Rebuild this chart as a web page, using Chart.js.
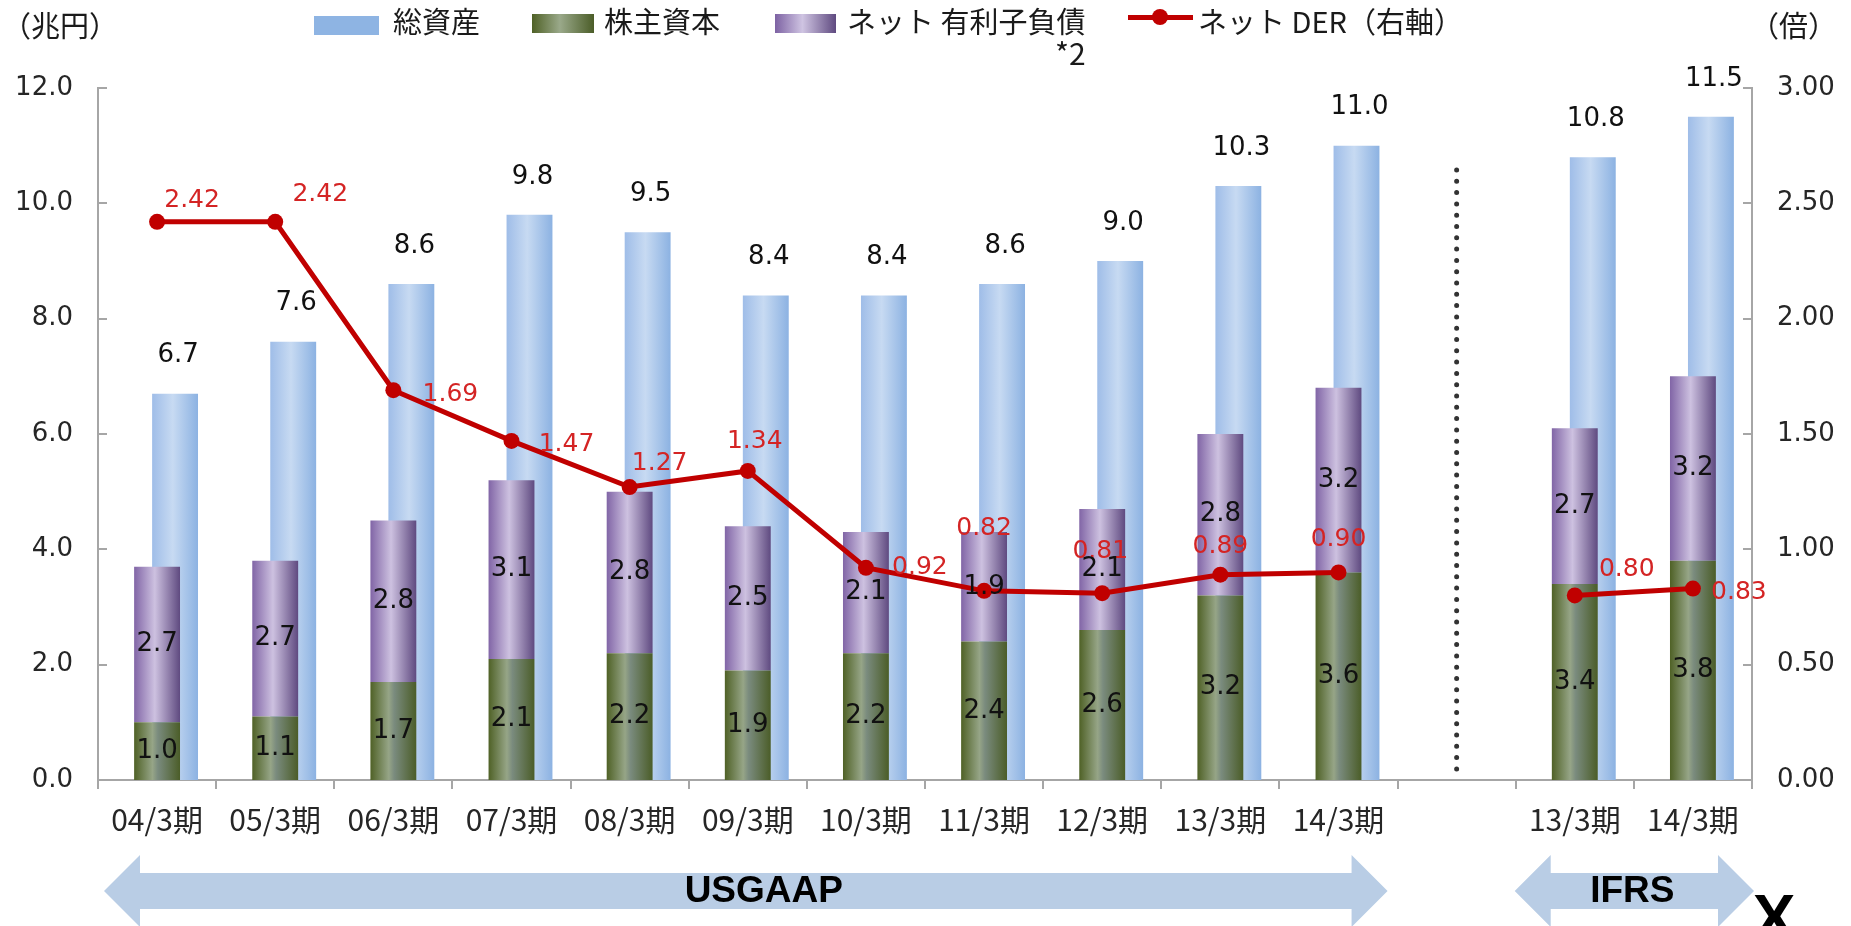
<!DOCTYPE html>
<html lang="ja">
<head>
<meta charset="utf-8">
<script src="https://cdn.jsdelivr.net/npm/chart.js@4.4.0/dist/chart.umd.min.js"></script>
<style>
  html, body { margin: 0; padding: 0; background: #fff; }
  #wrap { position: relative; width: 1851px; height: 926px; overflow: hidden; }
  #chart { position: absolute; left: 0; top: 0; }
  .lbl { position: absolute; font-family: "Noto Sans CJK JP", sans-serif; font-size: 29px; line-height: 1; color: #1a1a1a; white-space: nowrap; }
  .sw { position: absolute; }
</style>
</head>
<body>
<div id="wrap">
  <canvas id="chart" width="1851" height="926"></canvas>

  <span class="lbl" style="left:2px;top:10px">（兆円）</span>
  <span class="lbl" style="left:1750px;top:10px">（倍）</span>

  <div class="sw" style="left:314px;top:16px;width:65px;height:19px;background:#8eb4e3"></div>
  <span class="lbl" style="left:393px;top:6px">総資産</span>
  <div class="sw" style="left:532px;top:14px;width:62px;height:19px;background:linear-gradient(to right,#4f6126,#9aa98a 45%,#4b5d28)"></div>
  <span class="lbl" style="left:604px;top:6px">株主資本</span>
  <div class="sw" style="left:775px;top:14px;width:61px;height:19px;background:linear-gradient(to right,#7d62a3,#cfc4e2 45%,#5f4a80)"></div>
  <span class="lbl" style="left:847px;top:6px">ネット 有利子負債</span>
  <span class="lbl" style="left:1055px;top:37px;font-size:30px">*2</span>
  <div class="sw" style="left:1128px;top:15px;width:65px;height:5px;background:#c00000"></div>
  <div class="sw" style="left:1152px;top:9px;width:16px;height:16px;border-radius:50%;background:#c00000"></div>
  <span class="lbl" style="left:1198px;top:6px">ネット DER（右軸）</span>
</div>

<script>
// 区分
const categories = ['04/3期', '05/3期', '06/3期', '07/3期', '08/3期', '09/3期', '10/3期',
                    '11/3期', '12/3期', '13/3期', '14/3期', '', '13/3期', '14/3期'];

// 兆円
const totalAssets = [6.7, 7.6, 8.6, 9.8, 9.5, 8.4, 8.4, 8.6, 9.0, 10.3, 11.0, null, 10.8, 11.5];
const equity      = [1.0, 1.1, 1.7, 2.1, 2.2, 1.9, 2.2, 2.4, 2.6, 3.2, 3.6, null, 3.4, 3.8];
const netDebt     = [2.7, 2.7, 2.8, 3.1, 2.8, 2.5, 2.1, 1.9, 2.1, 2.8, 3.2, null, 2.7, 3.2];

// 倍
const netDer = [2.42, 2.42, 1.69, 1.47, 1.27, 1.34, 0.92, 0.82, 0.81, 0.89, 0.90, null, 0.80, 0.83];

// 軸
const leftMax = 12, leftStep = 2;
const rightMax = 3, rightStep = 0.5;

// DERラベルの置き場所 (点からのずれ, px)
const derLabelShift = [[35, -21], [45, -27], [57, 4], [55, 4], [30, -24], [7, -29], [54, 0],
                       [0, -62], [-2, -42], [0, -28], [0, -33], null, [52, -26], [46, 4]];

const gray = '#a6a6a6';
const textColor = '#262626';
const derRed = '#c00000';
const arrowBlue = '#b9cde5';

// 棒の立体感
const barShading = {
  id: 'barShading',
  beforeDatasetsDraw(chart) {
    const ctx = chart.ctx;
    chart.data.datasets.forEach((ds, i) => {
      if (!ds.shade) return;
      chart.getDatasetMeta(i).data.forEach(el => {
        if (!el.width || isNaN(el.y)) return;
        const g = ctx.createLinearGradient(el.x - el.width / 2, 0, el.x + el.width / 2, 0);
        ds.shade.forEach(s => g.addColorStop(s[0], s[1]));
        el.options = Object.assign({}, el.options, { backgroundColor: g });
      });
    });
  }
};

// 数値ラベル
const valueLabels = {
  id: 'valueLabels',
  afterDatasetsDraw(chart) {
    const ctx = chart.ctx;
    ctx.save();
    ctx.textAlign = 'center';
    ctx.textBaseline = 'middle';
    chart.data.datasets.forEach((ds, i) => {
      const meta = chart.getDatasetMeta(i);
      meta.data.forEach((el, j) => {
        const v = ds.data[j];
        if (v == null) return;
        if (ds.labelMode === 'inside') {
          ctx.font = '26px "DejaVu Sans"';
          ctx.fillStyle = '#111';
          ctx.fillText(v.toFixed(1), el.x, (el.y + el.base) / 2);
        } else if (ds.labelMode === 'top') {
          ctx.font = '26px "DejaVu Sans"';
          ctx.fillStyle = '#111';
          ctx.fillText(v.toFixed(1), el.x + 3, el.y - 38);
        } else if (ds.labelMode === 'der') {
          const sh = derLabelShift[j];
          ctx.font = '25px "DejaVu Sans"';
          ctx.fillStyle = '#d42424';
          ctx.fillText(v.toFixed(2), el.x + sh[0], el.y + sh[1]);
        }
      });
    });
    ctx.restore();
  }
};

// 軸の目盛り・点線・矢印
const decorations = {
  id: 'decorations',
  afterDraw(chart) {
    const ctx = chart.ctx;
    const { x, y, y2 } = chart.scales;
    const area = chart.chartArea;
    ctx.save();

    // 内向きの目盛り
    ctx.strokeStyle = gray;
    ctx.lineWidth = 2;
    y.ticks.forEach(t => {
      const py = Math.round(y.getPixelForValue(t.value));
      ctx.beginPath(); ctx.moveTo(area.left, py); ctx.lineTo(area.left + 9, py); ctx.stroke();
    });
    y2.ticks.forEach(t => {
      const py = Math.round(y2.getPixelForValue(t.value));
      ctx.beginPath(); ctx.moveTo(area.right - 9, py); ctx.lineTo(area.right, py); ctx.stroke();
    });

    // USGAAP / IFRS の区切り
    const gapX = x.getPixelForValue(11);
    ctx.strokeStyle = '#333';
    ctx.lineWidth = 5;
    ctx.lineCap = 'round';
    ctx.setLineDash([0, 11.3]);
    ctx.beginPath(); ctx.moveTo(gapX, 170); ctx.lineTo(gapX, area.bottom - 2); ctx.stroke();
    ctx.setLineDash([]);

    // 矢印
    const half = (x.getPixelForValue(1) - x.getPixelForValue(0)) / 2;
    const cy = area.bottom + 111;
    function arrow(x0, x1, text, textShift) {
      const head = 36, hh = 36, sh = 18;
      ctx.fillStyle = arrowBlue;
      ctx.beginPath();
      ctx.moveTo(x0, cy);
      ctx.lineTo(x0 + head, cy - hh);
      ctx.lineTo(x0 + head, cy - sh);
      ctx.lineTo(x1 - head, cy - sh);
      ctx.lineTo(x1 - head, cy - hh);
      ctx.lineTo(x1, cy);
      ctx.lineTo(x1 - head, cy + hh);
      ctx.lineTo(x1 - head, cy + sh);
      ctx.lineTo(x0 + head, cy + sh);
      ctx.lineTo(x0 + head, cy + hh);
      ctx.closePath();
      ctx.fill();
      ctx.fillStyle = '#000';
      ctx.font = 'bold 37px "Liberation Sans"';
      ctx.textAlign = 'center';
      ctx.textBaseline = 'middle';
      ctx.fillText(text, (x0 + x1) / 2 + textShift, cy + 1);
    }
    arrow(x.getPixelForValue(0) - half + 6, x.getPixelForValue(10) + half - 10, 'USGAAP', 18);
    arrow(x.getPixelForValue(12) - half - 1, x.getPixelForValue(13) + half + 2, 'IFRS', -2);

    ctx.fillStyle = '#000';
    ctx.font = 'bold 64px "Liberation Sans"';
    ctx.textAlign = 'center';
    ctx.textBaseline = 'alphabetic';
    ctx.fillText('X', 1774, 940);

    ctx.restore();
  }
};

const chart = new Chart(document.getElementById('chart'), {
  data: {
    labels: categories,
    datasets: [
      {
        type: 'line',
        label: 'ネット DER（右軸）',
        data: netDer,
        yAxisID: 'y2',
        order: 0,
        borderColor: derRed,
        borderWidth: 5,
        pointRadius: 8,
        pointBackgroundColor: derRed,
        pointBorderWidth: 0,
        tension: 0,
        spanGaps: false,
        labelMode: 'der'
      },
      {
        type: 'bar',
        label: '',
        data: categories.map(() => null),
        stack: 'spacer',
        order: 1
      },
      {
        type: 'bar',
        label: '株主資本',
        data: equity,
        stack: 'own',
        order: 2,
        backgroundColor: '#5c6e38',
        shade: [[0, '#4f6126'], [0.4, '#96a587'], [0.52, '#7a8b7e'], [1, '#4b5d28']],
        labelMode: 'inside'
      },
      {
        type: 'bar',
        label: 'ネット 有利子負債',
        data: netDebt,
        stack: 'own',
        order: 3,
        backgroundColor: '#9c86bd',
        shade: [[0, '#8165a6'], [0.45, '#cdc1e0'], [1, '#5f4a80']],
        labelMode: 'inside'
      },
      {
        type: 'bar',
        label: '総資産',
        data: totalAssets,
        stack: 'all',
        order: 4,
        backgroundColor: '#a9c5ea',
        shade: [[0, '#9fbde8'], [0.45, '#c7daf2'], [1, '#8cb2e2']],
        labelMode: 'top'
      }
    ]
  },
  options: {
    responsive: false,
    animation: false,
    events: [],
    layout: { padding: { top: 88, left: 0, right: 0, bottom: 0 } },
    datasets: { bar: { categoryPercentage: 0.457, barPercentage: 2.55 } },
    plugins: { legend: { display: false }, tooltip: { enabled: false } },
    scales: {
      x: {
        offset: true,
        grid: { offset: true, drawOnChartArea: false, drawTicks: true, tickLength: 9, color: gray, lineWidth: 2 },
        border: { color: gray, width: 2 },
        ticks: { font: { family: '"Noto Sans CJK JP"', size: 30 }, color: textColor, padding: 13, maxRotation: 0, autoSkip: false },
        afterFit(s) { s.height = 146; }
      },
      y: {
        position: 'left',
        stacked: true,
        min: 0,
        max: leftMax,
        ticks: { stepSize: leftStep, callback: v => v.toFixed(1), padding: 25, font: { family: '"DejaVu Sans"', size: 26 }, color: textColor },
        grid: { display: false, drawTicks: false },
        border: { color: gray, width: 2 },
        afterFit(s) { s.width = 98; }
      },
      y2: {
        position: 'right',
        min: 0,
        max: rightMax,
        ticks: { stepSize: rightStep, callback: v => v.toFixed(2), padding: 25, font: { family: '"DejaVu Sans"', size: 26 }, color: textColor },
        grid: { display: false, drawTicks: false },
        border: { color: gray, width: 2 },
        afterFit(s) { s.width = 99; }
      }
    }
  },
  plugins: [barShading, valueLabels, decorations]
});
</script>
</body>
</html>
